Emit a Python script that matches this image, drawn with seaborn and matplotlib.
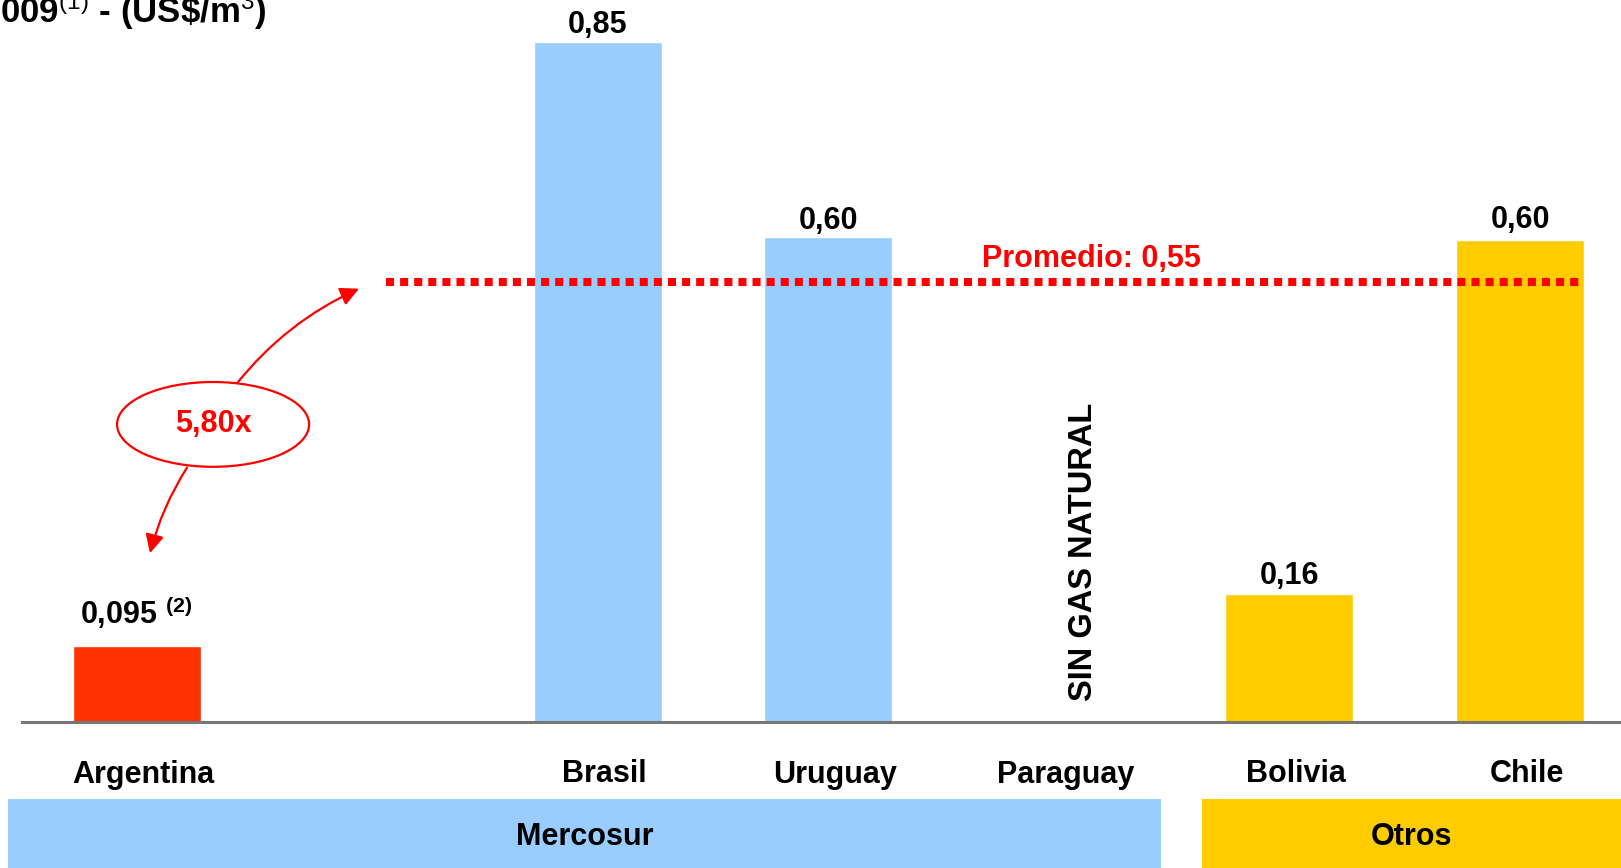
import matplotlib.pyplot as plt
import matplotlib.patches as mpatches
import matplotlib.transforms as mtransforms
import pandas as pd
import seaborn as sns

# datos del grafico
paises = ['Argentina', '', 'Brasil', 'Uruguay', 'Paraguay', 'Bolivia', 'Chile']
con_gas = ['Argentina', 'Brasil', 'Uruguay', 'Bolivia', 'Chile']
precios = [0.095, 0.85, 0.606, 0.16, 0.603]
etiquetas = ['0,095 $^{\\mathbf{(2)}}$', '0,85', '0,60', '0,16', '0,60']
colores = ['#FF3300', '#99CCFF', '#99CCFF', '#FFCC00', '#FFCC00']
promedio = 0.55
texto_promedio = 'Promedio: 0,55'
multiplo = '5,80x'
sin_gas = 'SIN GAS NATURAL'
grupos = ['Mercosur', 'Otros']
grupo_colores = ['#99CCFF', '#FFCC00']
titulo = '2009$^{(1)}$ - (US\\$/m$^{3}$)'

sns.set_theme(style='white')
plt.rcParams['font.family'] = ['Liberation Sans', 'DejaVu Sans']
plt.rcParams['text.color'] = 'black'
plt.rcParams['xtick.color'] = 'black'
plt.rcParams['mathtext.fontset'] = 'custom'
plt.rcParams['mathtext.rm'] = 'Liberation Sans'
plt.rcParams['mathtext.it'] = 'Liberation Sans'
plt.rcParams['mathtext.bf'] = 'Liberation Sans:bold'
plt.rcParams['mathtext.default'] = 'rm'

W, H = 1621, 868
fig = plt.figure(figsize=(W / 100, H / 100), dpi=100)
ax = fig.add_axes([21.7 / W, 146 / H, 1 - 21.7 / W, 722 / H])

df = pd.DataFrame({'pais': con_gas, 'precio': precios})
sns.barplot(data=df, x='pais', y='precio', order=paises, hue='pais',
            palette=dict(zip(con_gas, colores)), width=0.555,
            errorbar=None, legend=False, saturation=1, ax=ax)

ax.set_xlim(-0.498, 6.438)
ax.set_ylim(0, 0.9025)
ax.set_yticks([])
ax.set_xlabel('')
ax.set_ylabel('')
for s in ['top', 'right', 'left']:
    ax.spines[s].set_visible(False)
ax.spines['bottom'].set_color('#777777')
ax.spines['bottom'].set_linewidth(2.2)
ax.tick_params(axis='x', length=0, pad=27, labelsize=22)
corrimiento = mtransforms.ScaledTranslation(7 / 100, 0, fig.dpi_scale_trans)
for lbl in ax.get_xticklabels():
    lbl.set_fontweight('bold')
    lbl.set_transform(lbl.get_transform() + corrimiento)

# etiquetas de valor
desfase = [16, 6.5, 5.8, 7, 8]
for p, v, t, d in zip(con_gas, precios, etiquetas, desfase):
    ax.annotate(t, (paises.index(p), v), xytext=(0, d), textcoords='offset points',
                ha='center', va='baseline', fontsize=22, fontweight='bold')

# linea de promedio
ax.plot([1.082, 6.27], [promedio, promedio], color='#FF0000', lw=5.8,
        linestyle=(0, (1, 0.75)), solid_capstyle='butt', dash_capstyle='butt', zorder=5)
ax.text(4.143, 0.569, texto_promedio, color='#FF0000', fontsize=22,
        fontweight='bold', ha='center', va='baseline')

ax.text(4.105, 0.026, sin_gas, rotation=90, ha='center', va='bottom',
        fontsize=23.5, fontweight='bold')

# elipse con flechas
ax.add_patch(mpatches.Ellipse((0.332, 0.372), 0.833, 0.106, facecolor='white',
                              edgecolor='#FF0000', lw=1.6, zorder=6))
ax.text(0.332, 0.372, multiplo, color='#FF0000', fontsize=22, fontweight='bold',
        ha='center', va='center', zorder=7)
ax.annotate('', xy=(0.965, 0.5416), xytext=(0.436, 0.4235),
            arrowprops=dict(arrowstyle='-|>', color='#FF0000', lw=1.6,
                            mutation_scale=28, shrinkA=0, shrinkB=0,
                            connectionstyle='arc3,rad=-0.12'))
ax.annotate('', xy=(0.0585, 0.211), xytext=(0.219, 0.318),
            arrowprops=dict(arrowstyle='-|>', color='#FF0000', lw=1.6,
                            mutation_scale=28, shrinkA=0, shrinkB=0,
                            connectionstyle='arc3,rad=0.08'))

# titulo (cortado a la izquierda)
fig.text(267 / W, 1 - 23 / H, titulo, ha='right', va='baseline',
         fontsize=25, fontweight='bold')

# cajas de grupo
cajas = [(8.3, 1161), (1202, 1625)]
for g, c, (x0, x1) in zip(grupos, grupo_colores, cajas):
    fig.add_artist(mpatches.Rectangle((x0 / W, 0), (x1 - x0) / W, 69 / H,
                                      transform=fig.transFigure, color=c, lw=0))
    fig.text((x0 + min(x1, W)) / 2 / W, 1 - 837 / H, g, ha='center', va='center',
             fontsize=22, fontweight='bold')

fig.savefig('out.png', dpi=100)
